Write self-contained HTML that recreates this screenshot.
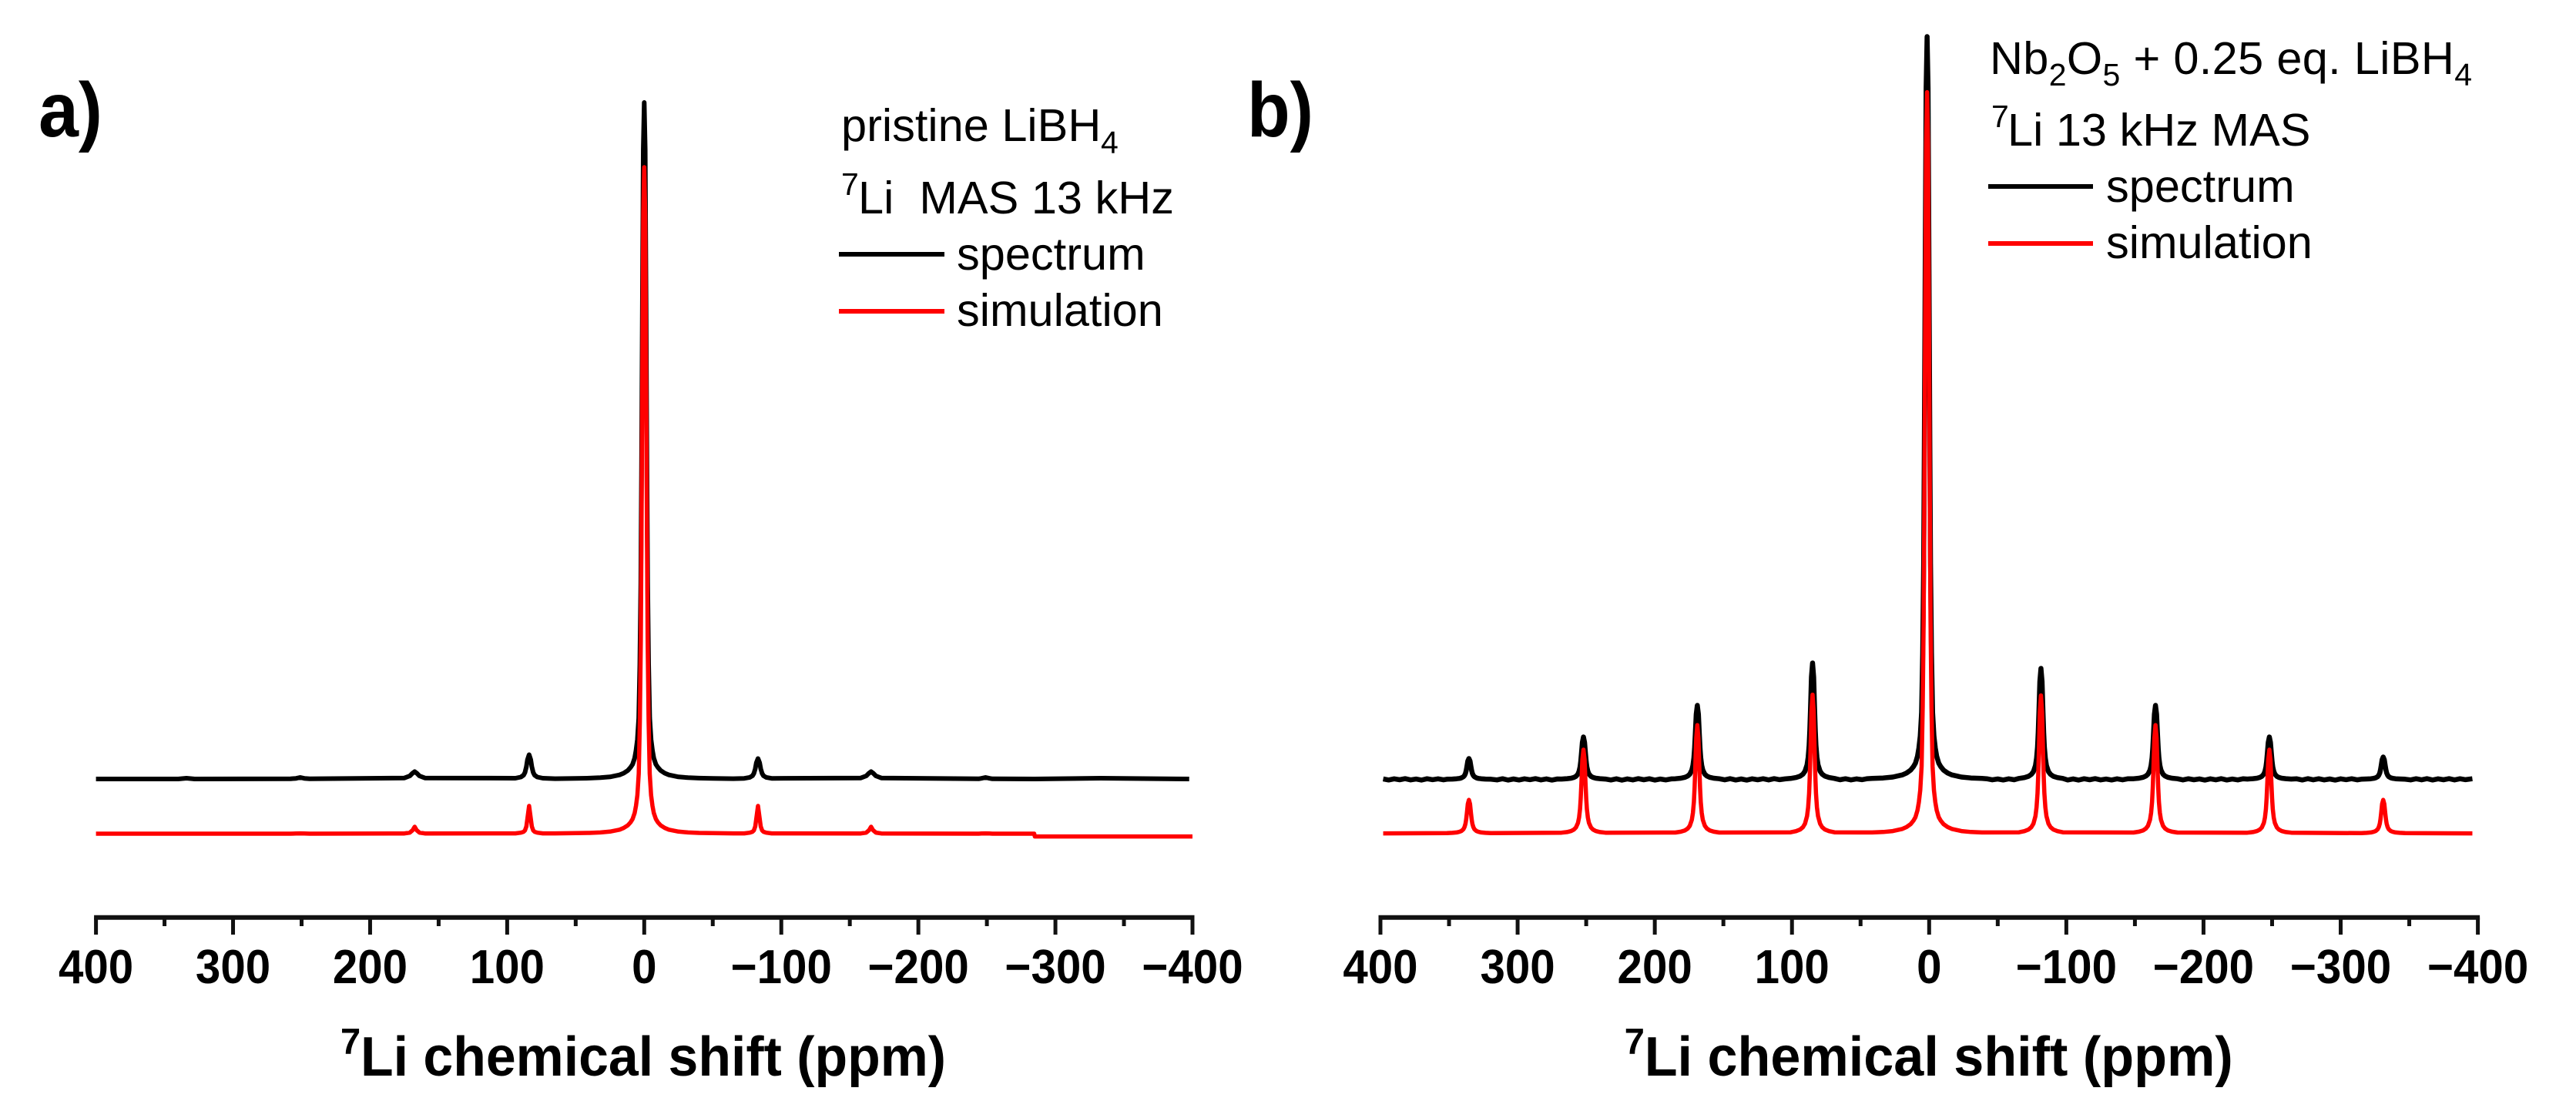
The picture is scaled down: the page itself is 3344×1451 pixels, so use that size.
<!DOCTYPE html>
<html lang="en">
<head>
<meta charset="utf-8">
<title>7Li MAS NMR spectra</title>
<style>
html,body{margin:0;padding:0;background:#fff;}
svg{display:block;}
text{font-family:"Liberation Sans",Arial,sans-serif;fill:#000;}
.leg{font-size:59.5px;}
.sm{font-size:41px;}
.tick{font-size:62px;font-weight:bold;text-anchor:middle;}
.title{font-size:72px;font-weight:bold;}
.titlesup{font-size:47px;font-weight:bold;}
.panel{font-size:100px;font-weight:bold;}
</style>
</head>
<body>
<svg id="figure" xmlns="http://www.w3.org/2000/svg" width="3344" height="1451" viewBox="0 0 3344 1451">
  <rect width="3344" height="1451" fill="#fff"/>

  <text class="panel" x="50" y="177" textLength="83" lengthAdjust="spacingAndGlyphs">a)</text>
  <text class="panel" x="1619" y="177" textLength="86" lengthAdjust="spacingAndGlyphs">b)</text>

  <g id="panel-a"></g>
  <g id="panel-b"></g>

  <g>
    <text class="leg" x="1092" y="183">pristine LiBH</text>
    <text class="sm" x="1429" y="199">4</text>
    <text class="sm" x="1092" y="253">7</text>
    <text class="leg" x="1114" y="277" xml:space="preserve">Li  MAS 13 kHz</text>
    <line x1="1089" x2="1226" y1="330" y2="330" stroke="#000" stroke-width="6"/>
    <text class="leg" x="1242" y="350">spectrum</text>
    <line x1="1089" x2="1226" y1="404" y2="404" stroke="#f00" stroke-width="6"/>
    <text class="leg" x="1242" y="423">simulation</text>
  </g>

  <g>
    <text class="leg" x="2583" y="96" textLength="626" lengthAdjust="spacing">Nb<tspan class="sm" dy="15">2</tspan><tspan dy="-15">O</tspan><tspan class="sm" dy="15">5</tspan><tspan dy="-15"> + 0.25 eq. LiBH</tspan><tspan class="sm" dy="15">4</tspan></text>
    <text class="sm" x="2585" y="165">7</text>
    <text class="leg" x="2606" y="189">Li 13 kHz MAS</text>
    <line x1="2581" x2="2717" y1="242" y2="242" stroke="#000" stroke-width="6"/>
    <text class="leg" x="2734" y="262">spectrum</text>
    <line x1="2581" x2="2717" y1="316" y2="316" stroke="#f00" stroke-width="6"/>
    <text class="leg" x="2734" y="335">simulation</text>
  </g>
</svg>

<script>
const majorTicks = [400, 300, 200, 100, 0, -100, -200, -300, -400];
const majorTickLabels = ["400", "300", "200", "100", "0", "\u2212100", "\u2212200", "\u2212300", "\u2212400"];
const minorTicks = [350, 250, 150, 50, -50, -150, -250, -350];

const shiftsA = [400,340,334,328,258,254,251,248,244,175,171,169,167.5,166,164,160,
  94,90,88,87,86,85.2,84,82.8,82,81,80,78,74,
  65,50,40,32,25,18,15,12,10,8.5,7,6,5,4,3.2,2.5,2,1.4,0.7,0,-0.7,-1.4,-2,-2.5,-3.2,-4,-5,-6,-7,-8.5,-10,-12,-15,-18,-25,-32,-40,-50,-65,
  -73,-77,-79,-80,-81,-81.8,-83,-84.2,-85,-86,-87,-89,-93,
  -158,-162,-164,-165.5,-167,-169,-173,
  -244,-246,-249,-252,-254,
  -284.5,-285,-333,-397.6,-400];
const spectrumA = [0,0,1,0,0.2,0.8,2,0.8,0.2,1.3,4,7.6,9.5,7.6,4,1.3,
  1,2.5,5,8.5,15.8,25,31.5,25,15.8,8.5,5,2.5,1,
  0.4,0.7,1.1,1.7,2.7,5.3,7.5,11,15,19,27,37,51,79,149,255,395,597,817,878,817,597,395,255,149,79,51,37,27,19,15,11,7.5,5.3,2.7,1.7,1.1,0.7,0.4,
  0.8,2.1,4.2,7.2,13.2,21,26.5,21,13.2,7.2,4.2,2.1,0.8,
  1.3,4,7.6,9.5,7.6,4,1.3,
  0.2,0.8,2,0.8,0.2,
  0,0,1,0,null];
const simulationA = [0,0,0,0,0,0.2,0.4,0.2,0,0.3,1.4,4.5,9,4.5,1.4,0.3,
  0.4,1.3,2.5,4.3,9.4,20,36,20,9.4,4.3,2.5,1.3,0.4,
  0.4,0.7,1,1.6,2.7,5.2,7.4,10.8,14.7,19,26.8,36.3,50,78,147,251,389,588,804,865,804,588,389,251,147,78,50,36.3,26.8,19,14.7,10.8,7.4,5.2,2.7,1.6,1,0.7,0.4,
  0.4,1.3,2.5,4.3,9.4,20,36,20,9.4,4.3,2.5,1.3,0.4,
  0.3,1.4,4.5,9,4.5,1.4,0.3,
  0,0.2,0.4,0.2,0,
  0,-3.6,-3.6,-3.6,-3.6];

const shiftsSpectrumB = [398,394,390,386,382,378,374,370,366,362,358,354,
  351.5,347.5,344.5,342.5,341,339.5,338.7,338,337.5,337,336.3,335.5,334.7,334,333.5,333,332.3,331.5,330,328.5,326.5,323.5,319.5,
  315,311,307,303,299,295,291,287,283,279,275,271,
  268,264,261,259,257.5,256,255.2,254.5,254,253.5,252.8,252,251.2,250.5,250,249.5,248.8,248,246.5,245,243,240,236,
  232,228,224,220,216,212,208,204,200,196,192,188,
  185,181,178,176,174.5,173,172.2,171.5,171,170.5,169.8,169,168.2,167.5,167,166.5,165.8,165,163.5,162,160,157,153,
  149,145,141,137,133,129,125,121,117,113,109,105,
  101,97,94,92,90.5,89,88.2,87.5,87,86.5,85.8,85,84.2,83.5,83,82.5,81.8,81,79.5,78,76,73,69,
  65,61,57,53,49,45,
  41.5,33.5,26.5,19.5,16.5,13.5,11.5,10,8.5,7.5,6.5,5.5,4.7,4,3.5,2.9,2.2,1.5,0.8,0.1,-0.5,-1,-1.7,-2.5,-3.5,-4.5,-5.5,-7,-8.5,-10.5,-13.5,-16.5,-23.5,-30.5,-38.5,
  -42,-46,-50,-54,-58,-62,
  -65.5,-69.5,-72.5,-74.5,-76,-77.5,-78.3,-79,-79.5,-80,-80.7,-81.5,-82.3,-83,-83.5,-84,-84.7,-85.5,-87,-88.5,-90.5,-93.5,-97.5,
  -101,-105,-109,-113,-117,-121,-125,-129,-133,-137,-141,-145,
  -149,-153,-156,-158,-159.5,-161,-161.8,-162.5,-163,-163.5,-164.2,-165,-165.8,-166.5,-167,-167.5,-168.2,-169,-170.5,-172,-174,-177,-181,
  -185,-189,-193,-197,-201,-205,-209,-213,-217,-221,-225,-229,
  -232,-236,-239,-241,-242.5,-244,-244.8,-245.5,-246,-246.5,-247.2,-248,-248.8,-249.5,-250,-250.5,-251.2,-252,-253.5,-255,-257,-260,-264,
  -268,-272,-276,-280,-284,-288,-292,-296,-300,-304,-308,-312,
  -315,-319,-322,-324,-325.5,-327,-327.8,-328.5,-329,-329.5,-330.2,-331,-331.8,-332.5,-333,-333.5,-334.2,-335,-336.5,-338,-340,-343,-347,
  -351,-355,-359,-363,-367,-371,-375,-379,-383,-387,-391,-396];
const spectrumB = [0.6,-0.8,0.7,-0.5,0.9,-0.7,0.4,-0.9,0.8,-0.4,0.7,-0.6,
  0.2,0.4,0.8,1.2,1.9,3.4,5.1,7.8,11.3,16.2,23.8,27,23.8,16.2,11.3,7.8,5.1,3.4,1.9,1.2,0.8,0.4,0.2,
  -0.7,0.8,-0.9,0.5,-0.8,0.7,-0.4,0.9,-0.7,0.6,-0.9,0.5,
  0.4,0.9,1.5,2.5,3.9,6.9,10.5,16,23,33,48,55,48,33,23,16,10.5,6.9,3.9,2.5,1.5,0.9,0.4,
  -0.8,0.7,-1,0.6,-0.7,0.9,-0.5,0.8,-0.9,0.4,-0.7,0.6,
  0.8,1.5,2.7,4.3,6.7,12,18.2,27.8,40,57.6,84.5,96,84.5,57.6,40,27.8,18.2,12,6.7,4.3,2.7,1.5,0.8,
  -0.6,0.9,-0.8,0.5,-0.9,0.7,-0.5,0.8,-0.7,0.9,-0.4,0.6,
  1.2,2.4,4.2,6.8,10.6,18.9,28.7,43.8,63.4,90.6,133,151,133,90.6,63.4,43.8,28.7,18.9,10.6,6.8,4.2,2.4,1.2,
  -0.5,0.8,-0.7,0.6,-0.4,0.9,
  1.2,1.8,3,5.8,8.2,12,16.4,21,30,40.5,56,87,164,280,434,656,897,964,897,656,434,280,164,87,56,40.5,30,21,16.4,12,8.2,5.8,3,1.8,1.2,
  0.8,-0.6,0.5,-0.8,0.7,-0.5,
  1.2,2.3,4,6.5,10,18,27.4,41.8,60.5,86.4,127,144,127,86.4,60.5,41.8,27.4,18,10,6.5,4,2.3,1.2,
  -0.8,0.6,-0.9,0.8,-0.5,0.9,-0.7,0.4,-0.8,0.7,-0.6,0.8,
  0.8,1.5,2.7,4.3,6.7,12,18.2,27.8,40,57.6,84.5,96,84.5,57.6,40,27.8,18.2,12,6.7,4.3,2.7,1.5,0.8,
  -0.7,0.8,-0.5,0.6,-0.9,0.7,-0.6,0.9,-0.8,0.4,-0.7,0.8,
  0.4,0.9,1.5,2.5,3.9,6.9,10.5,16,23,33,48,55,48,33,23,16,10.5,6.9,3.9,2.5,1.5,0.9,0.4,
  0.7,-0.8,0.9,-0.6,0.8,-0.7,0.5,-0.9,0.7,-0.4,0.8,-0.6,
  0.2,0.5,0.8,1.3,2,3.6,5.5,8.4,12.2,17.4,25.5,29,25.5,17.4,12.2,8.4,5.5,3.6,2,1.3,0.8,0.5,0.2,
  -0.7,0.8,-0.6,0.9,-0.8,0.7,-0.5,0.9,-0.7,0.8,-0.4,0.8];

const shiftsSimulationB = [398,
  351.5,347.5,344.5,342.5,341,339.5,338.7,338,337.5,337,336.3,335.5,334.7,334,333.5,333,332.3,331.5,330,328.5,326.5,323.5,319.5,
  268,264,261,259,257.5,256,255.2,254.5,254,253.5,252.8,252,251.2,250.5,250,249.5,248.8,248,246.5,245,243,240,236,
  185,181,178,176,174.5,173,172.2,171.5,171,170.5,169.8,169,168.2,167.5,167,166.5,165.8,165,163.5,162,160,157,153,
  101,97,94,92,90.5,89,88.2,87.5,87,86.5,85.8,85,84.2,83.5,83,82.5,81.8,81,79.5,78,76,73,69,
  41.5,33.5,26.5,19.5,16.5,13.5,11.5,10,8.5,7.5,6.5,5.5,4.7,4,3.5,2.9,2.2,1.5,0.8,0.1,-0.5,-1,-1.7,-2.5,-3.5,-4.5,-5.5,-7,-8.5,-10.5,-13.5,-16.5,-23.5,-30.5,-38.5,
  -65.5,-69.5,-72.5,-74.5,-76,-77.5,-78.3,-79,-79.5,-80,-80.7,-81.5,-82.3,-83,-83.5,-84,-84.7,-85.5,-87,-88.5,-90.5,-93.5,-97.5,
  -149,-153,-156,-158,-159.5,-161,-161.8,-162.5,-163,-163.5,-164.2,-165,-165.8,-166.5,-167,-167.5,-168.2,-169,-170.5,-172,-174,-177,-181,
  -232,-236,-239,-241,-242.5,-244,-244.8,-245.5,-246,-246.5,-247.2,-248,-248.8,-249.5,-250,-250.5,-251.2,-252,-253.5,-255,-257,-260,-264,
  -315,-319,-322,-324,-325.5,-327,-327.8,-328.5,-329,-329.5,-330.2,-331,-331.8,-332.5,-333,-333.5,-334.2,-335,-336.5,-338,-340,-343,-347,
  -396];
const simulationB = [0,
  0.3,0.7,1.2,2,3,5.4,8.3,12.6,18.3,26,38.3,43.5,38.3,26,18.3,12.6,8.3,5.4,3,2,1.2,0.7,0.3,
  0.9,1.7,3,4.9,7.6,13.6,20.6,31.5,45.6,65,95.6,108.6,95.6,65,45.6,31.5,20.6,13.6,7.6,4.9,3,1.7,0.9,
  1.1,2.2,3.9,6.3,9.8,17.6,26.7,40.7,59,84.3,123.6,140.5,123.6,84.3,59,40.7,26.7,17.6,9.8,6.3,3.9,2.2,1.1,
  1.4,2.9,5,8.1,12.6,22.5,34,52,75.6,108,158,180,158,108,75.6,52,34,22.5,12.6,8.1,5,2.9,1.4,
  1.2,1.8,3,5.8,8.2,12,16.4,21,30,40.4,56,87,164,279,433,654,895,962,895,654,433,279,164,87,56,40.4,30,21,16.4,12,8.2,5.8,3,1.8,1.2,
  1.4,2.9,5,8.1,12.5,22.4,34,52,75,107.4,157.5,179,157.5,107.4,75,52,34,22.4,12.5,8.1,5,2.9,1.4,
  1.1,2.2,3.9,6.3,9.8,17.6,26.7,40.7,59,84.3,123.6,140.5,123.6,84.3,59,40.7,26.7,17.6,9.8,6.3,3.9,2.2,1.1,
  0.9,1.7,3,4.9,7.6,13.6,20.6,31.5,45.6,65,95.6,108.6,95.6,65,45.6,31.5,20.6,13.6,7.6,4.9,3,1.7,0.9,
  0.3,0.7,1.2,2,3,5.4,8.3,12.6,18.3,26,38.3,43.5,38.3,26,18.3,12.6,8.3,5.4,3,2,1.2,0.7,0.3,
  0];

const SVG_NS = "http://www.w3.org/2000/svg";
const AXIS_Y = 1190.7;

function xScale(x400, xMinus400) {
  return function (ppm) { return x400 + (400 - ppm) * (xMinus400 - x400) / 800; };
}
function yScale(baselineY) {
  return function (intensity) { return baselineY - intensity; };
}
function pointsFor(shifts, values, x, y) {
  const out = [];
  for (let i = 0; i < shifts.length; i++) {
    if (values[i] === null || values[i] === undefined) continue;
    out.push(x(shifts[i]).toFixed(2) + "," + y(values[i]).toFixed(2));
  }
  return out.join(" ");
}
function drawSeries(parent, name, shifts, values, x, y, color, width) {
  const line = document.createElementNS(SVG_NS, "polyline");
  
  
  line.setAttribute("points", pointsFor(shifts, values, x, y));
  line.setAttribute("fill", "none");
  line.setAttribute("stroke", color);
  line.setAttribute("stroke-width", width);
  line.setAttribute("stroke-linejoin", "round");
  parent.appendChild(line);
}
function drawAxis(parent, prefix, x, titleX, titleWidth) {
  const group = document.createElementNS(SVG_NS, "g");
  
  
  parent.appendChild(group);

  const spine = document.createElementNS(SVG_NS, "line");
  
  
  spine.setAttribute("x1", x(400) - 2.5);
  spine.setAttribute("x2", x(-400) + 2.5);
  spine.setAttribute("y1", AXIS_Y);
  spine.setAttribute("y2", AXIS_Y);
  spine.setAttribute("stroke", "#111");
  spine.setAttribute("stroke-width", 6);
  group.appendChild(spine);

  majorTicks.forEach(function (v, i) {
    const tick = document.createElementNS(SVG_NS, "line");
    
    
    tick.setAttribute("x1", x(v));
    tick.setAttribute("x2", x(v));
    tick.setAttribute("y1", AXIS_Y);
    tick.setAttribute("y2", 1213);
    tick.setAttribute("stroke", "#111");
    tick.setAttribute("stroke-width", 5);
    group.appendChild(tick);

    const label = document.createElementNS(SVG_NS, "text");
    
    
    label.setAttribute("class", "tick");
    label.setAttribute("x", x(v));
    label.setAttribute("y", 1276);
    label.textContent = majorTickLabels[i];
    group.appendChild(label);
    label.setAttribute("textLength", (label.getComputedTextLength() * 0.94).toFixed(1));
    label.setAttribute("lengthAdjust", "spacingAndGlyphs");
  });
  minorTicks.forEach(function (v) {
    const tick = document.createElementNS(SVG_NS, "line");
    
    
    tick.setAttribute("x1", x(v));
    tick.setAttribute("x2", x(v));
    tick.setAttribute("y1", AXIS_Y);
    tick.setAttribute("y2", 1202);
    tick.setAttribute("stroke", "#111");
    tick.setAttribute("stroke-width", 5);
    group.appendChild(tick);
  });

  const sup = document.createElementNS(SVG_NS, "text");
  
  
  sup.setAttribute("class", "titlesup");
  sup.setAttribute("x", titleX);
  sup.setAttribute("y", 1368);
  sup.textContent = "7";
  group.appendChild(sup);

  const title = document.createElementNS(SVG_NS, "text");
  
  
  title.setAttribute("class", "title");
  title.setAttribute("x", titleX + 26);
  title.setAttribute("y", 1396);
  title.setAttribute("textLength", titleWidth);
  title.setAttribute("lengthAdjust", "spacingAndGlyphs");
  title.textContent = "Li chemical shift (ppm)";
  group.appendChild(title);
}

const panelA = document.getElementById("panel-a");
const xA = xScale(124.6, 1548);
drawAxis(panelA, "panel-a", xA, 442, 760);
drawSeries(panelA, "panel-a-spectrum-line", shiftsA, spectrumA, xA, yScale(1011), "#000", 6);
drawSeries(panelA, "panel-a-simulation-line", shiftsA, simulationA, xA, yScale(1082), "#f00", 5.5);

const panelB = document.getElementById("panel-b");
const xB = xScale(1792, 3216.6);
drawAxis(panelB, "panel-b", xB, 2108.7, 764);
drawSeries(panelB, "panel-b-spectrum-line", shiftsSpectrumB, spectrumB, xB, yScale(1011.5), "#000", 6.5);
drawSeries(panelB, "panel-b-simulation-line", shiftsSimulationB, simulationB, xB, yScale(1081.6), "#f00", 5.5);
</script>
</body>
</html>
